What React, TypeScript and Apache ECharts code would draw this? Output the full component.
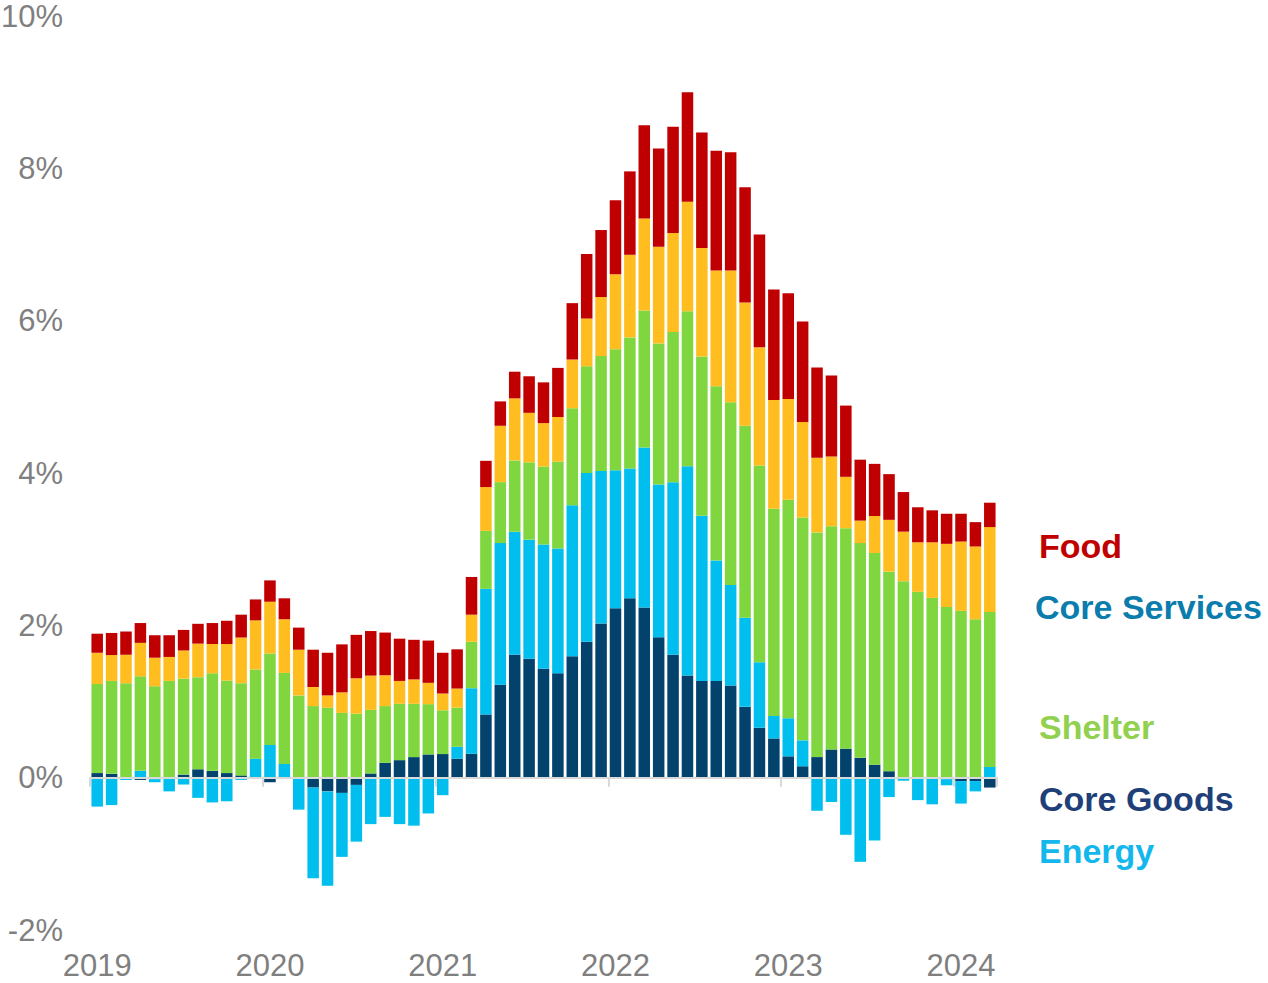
import React, { useEffect, useRef } from "react";
import * as echarts from "echarts";

// Monthly categories, Jan 2019 .. Mar 2024
const years = ["2019", "2020", "2021", "2022", "2023", "2024"];
const monthNums = ["01", "02", "03", "04", "05", "06", "07", "08", "09", "10", "11", "12"];
const months: string[] = [];
years.forEach((y) => monthNums.forEach((m) => months.push(`${y}-${m}`)));
months.splice(63);

// Contributions to CPI inflation (percentage points)
const coreGoods = [
  0.06, 0.05, 0.01, -0.03, -0.02, 0.0, 0.04, 0.11, 0.09, 0.06, 0.03, 0.0,
  -0.06, -0.01, -0.01, -0.13, -0.18, -0.2, -0.095, 0.055, 0.195, 0.23, 0.27, 0.305,
  0.31, 0.25, 0.315, 0.83, 1.22, 1.615, 1.56, 1.43, 1.37, 1.595, 1.785, 2.025,
  2.225, 2.355, 2.235, 1.845, 1.615, 1.34, 1.27, 1.27, 1.21, 0.93, 0.655, 0.515,
  0.28, 0.15, 0.27, 0.37, 0.38, 0.26, 0.17, 0.085, 0.0, -0.01, -0.01, -0.02,
  -0.045, -0.045, -0.13,
];
const energy = [
  -0.38, -0.36, -0.03, 0.09, -0.04, -0.18, -0.09, -0.265, -0.325, -0.31, -0.03, 0.25,
  0.43, 0.18, -0.41, -1.19, -1.24, -0.84, -0.745, -0.61, -0.515, -0.61, -0.63, -0.47,
  -0.23, 0.155, 0.86, 1.65, 1.86, 1.615, 1.565, 1.63, 1.64, 1.98, 2.215, 2.0,
  1.81, 1.705, 2.1, 2.005, 2.265, 2.75, 2.17, 1.58, 1.32, 1.17, 0.86, 0.295,
  0.5, 0.34, -0.435, -0.32, -0.75, -1.105, -0.825, -0.255, -0.04, -0.285, -0.34, -0.08,
  -0.295, -0.135, 0.14,
];
const shelter = [
  1.17, 1.22, 1.23, 1.24, 1.2, 1.27, 1.26, 1.21, 1.28, 1.215, 1.21, 1.17,
  1.2, 1.195, 1.08, 0.94, 0.92, 0.85, 0.84, 0.835, 0.745, 0.74, 0.7, 0.66,
  0.575, 0.515, 0.61, 0.76, 0.8, 0.935, 1.015, 1.025, 1.14, 1.275, 1.4, 1.51,
  1.59, 1.72, 1.8, 1.85, 1.97, 2.035, 2.09, 2.29, 2.4, 2.52, 2.585, 2.72,
  2.87, 2.925, 2.95, 2.93, 2.895, 2.82, 2.78, 2.62, 2.58, 2.44, 2.36, 2.24,
  2.19, 2.08, 2.035,
];
const coreServices = [
  0.41, 0.34, 0.375, 0.44, 0.375, 0.315, 0.37, 0.44, 0.385, 0.48, 0.6, 0.645,
  0.68, 0.705, 0.6, 0.25, 0.16, 0.27, 0.465, 0.45, 0.405, 0.3, 0.32, 0.28,
  0.22, 0.25, 0.355, 0.575, 0.74, 0.815, 0.65, 0.57, 0.585, 0.64, 0.63, 0.775,
  0.985, 1.085, 1.205, 1.27, 1.3, 1.435, 1.425, 1.52, 1.73, 1.62, 1.55, 1.43,
  1.32, 1.255, 0.98, 0.915, 0.675, 0.295, 0.485, 0.68, 0.65, 0.65, 0.73, 0.83,
  0.91, 0.955, 1.115,
];
const food = [
  0.25, 0.29, 0.305, 0.26, 0.295, 0.285, 0.27, 0.26, 0.275, 0.305, 0.3, 0.275,
  0.28, 0.275, 0.29, 0.49, 0.56, 0.63, 0.57, 0.585, 0.56, 0.555, 0.52, 0.555,
  0.535, 0.515, 0.495, 0.345, 0.32, 0.35, 0.48, 0.535, 0.645, 0.74, 0.845, 0.88,
  0.97, 1.095, 1.225, 1.29, 1.395, 1.44, 1.515, 1.57, 1.55, 1.51, 1.48, 1.45,
  1.39, 1.32, 1.185, 1.065, 0.935, 0.8, 0.685, 0.6, 0.52, 0.46, 0.42, 0.395,
  0.365, 0.32, 0.32,
];

const seriesNames = ["Core Goods", "Energy", "Shelter", "Core Services", "Food"];
const seriesData = [coreGoods, energy, shelter, coreServices, food];
const barColors = ["#02426C", "#00BFEE", "#7FD63E", "#FFBD1F", "#C00000"];

const legendLabels = ["Food", "Core Services", "Shelter", "Core Goods", "Energy"];
const legendColors = ["#C00000", "#0A7DAD", "#92D050", "#203F78", "#13B7EC"];

const FONT = "'Liberation Sans', Arial, Helvetica, sans-serif";

export default function App() {
  const ref = useRef<HTMLDivElement>(null);

  useEffect(() => {
    if (!ref.current) return;
    const chart = echarts.init(ref.current, null, { renderer: "svg" });

    const legendPos = [
      { x: 1039, y: 547 },
      { x: 1035, y: 608 },
      { x: 1039, y: 728 },
      { x: 1039, y: 800 },
      { x: 1039, y: 852 },
    ];

    chart.setOption({
      animation: false,
      backgroundColor: "#ffffff",
      grid: {
        left: 90,
        top: 16,
        width: 907,
        height: 914,
        containLabel: false,
        outerBoundsMode: "none",
      },
      xAxis: [
        {
          type: "category",
          data: months,
          position: "bottom",
          axisLine: { show: false, onZero: false },
          axisTick: { show: false },
          splitLine: { show: false },
          axisLabel: {
            interval: (i: number) => i % 12 === 0,
            formatter: (v: string) => v.slice(0, 4),
            color: "#7F7F7F",
            fontSize: 31,
            fontFamily: FONT,
            margin: 20,
          },
        },
        {
          type: "category",
          data: months,
          position: "bottom",
          z: 10,
          axisLine: { show: true, onZero: true, lineStyle: { color: "#D9D9D9", width: 2 } },
          axisTick: {
            show: true,
            alignWithLabel: false,
            interval: (i: number) => i % 12 === 0,
            length: 9,
            lineStyle: { color: "#D9D9D9", width: 2 },
          },
          axisLabel: { show: false },
          splitLine: { show: false },
        },
      ],
      yAxis: {
        type: "value",
        min: -2,
        max: 10,
        interval: 2,
        axisLine: { show: false },
        axisTick: { show: false },
        splitLine: { show: false },
        axisLabel: {
          formatter: (v: number) => `${v}%`,
          color: "#7F7F7F",
          fontSize: 31,
          fontFamily: FONT,
          margin: 27,
        },
      },
      series: seriesNames.map((name, k) => ({
        name,
        type: "bar",
        stack: "cpi",
        xAxisIndex: 0,
        data: seriesData[k],
        barCategoryGap: "20%",
        itemStyle: { color: barColors[k] },
      })),
      graphic: legendLabels.map((t, k) => ({
        type: "text",
        left: legendPos[k].x,
        top: legendPos[k].y - 18,
        style: {
          text: t,
          fill: legendColors[k],
          font: `bold 34px ${FONT}`,
        },
      })),
    });

    return () => chart.dispose();
  }, []);

  return (
    <div
      ref={ref}
      style={{ position: "fixed", left: 0, top: 0, width: 1268, height: 983, background: "#fff" }}
    />
  );
}
